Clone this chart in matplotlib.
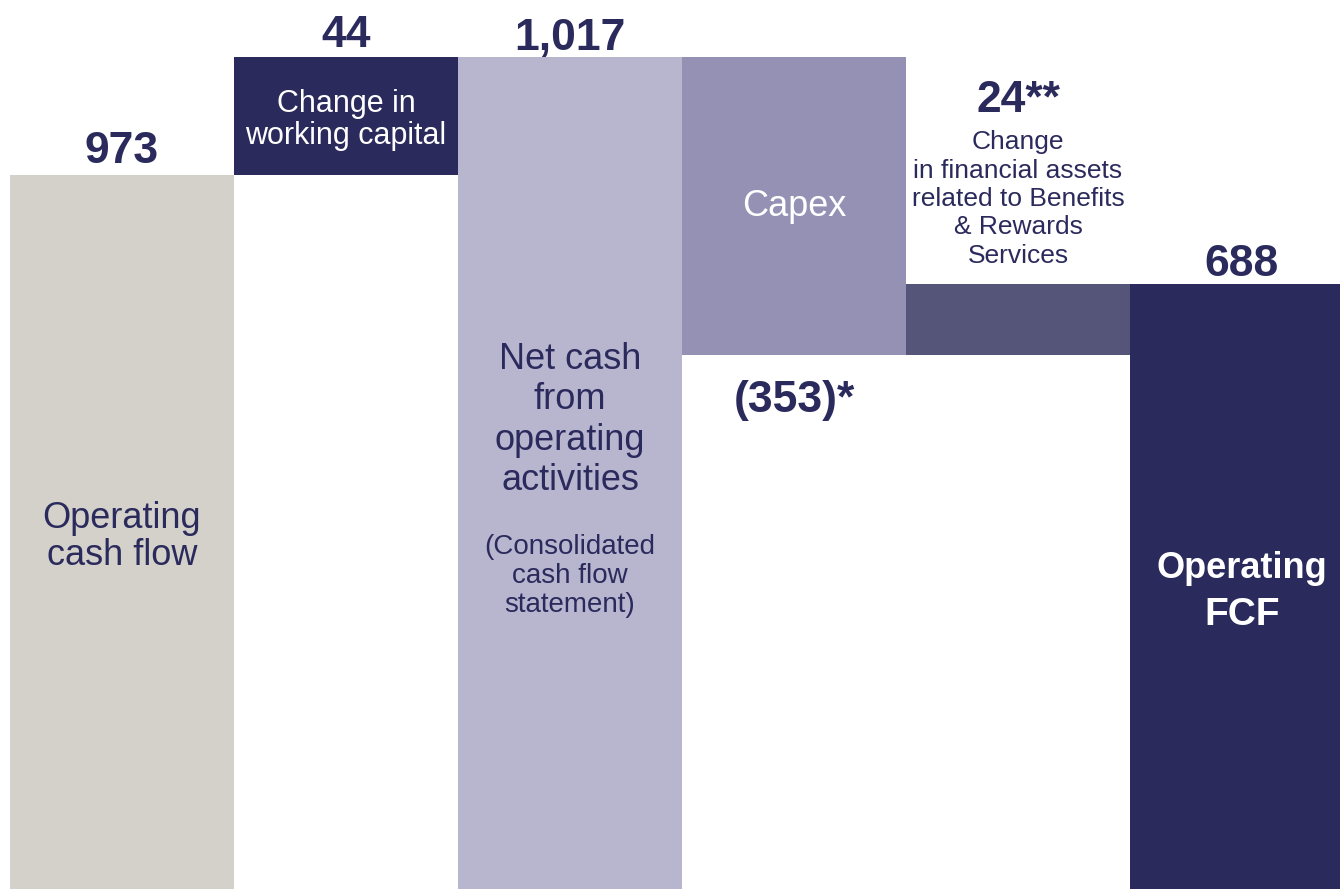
import numpy as np
import matplotlib
matplotlib.use('Agg')
import matplotlib.pyplot as plt
from matplotlib import transforms

# Datos del puente (millones)
steps = ['Operating cash flow', 'Change in working capital',
         'Net cash from operating activities', 'Capex',
         'Change in financial assets', 'Operating FCF']
values = [973, 44, 1017, -353, 24, 688]
kinds = ['total', 'delta', 'total', 'delta', 'delta', 'total']
value_labels = ['973', '44', '1,017', '(353)*', '24**', '688']
colors = ['#D3D1CA', '#2B2A5C', '#B8B6CF', '#9491B5', '#55557A', '#2B2A5C']

ink = '#2B2A5C'
fam = 'Liberation Sans'

# barras flotantes
bottoms, heights = [], []
running = 0
for v, k in zip(values, kinds):
    if k == 'total':
        bottoms.append(0)
        running = v
    else:
        bottoms.append(running)
        running += v
    heights.append(v)

# el grafico original no esta a escala: escala lineal por tramos
levels = sorted(set([0] + [b + h for b, h in zip(bottoms, heights)] + bottoms))
level_px = [0, 534, 605, 714, 832]          # altura en pantalla de cada nivel
H = 889
slope = (levels[-1] - levels[-2]) / (level_px[-1] - level_px[-2])
ytop = levels[-1] + (H - level_px[-1]) * slope
lv = np.array(levels + [ytop], dtype=float)
px = np.array(level_px + [H], dtype=float)

fig = plt.figure(figsize=(13.4, 8.89), dpi=100)
ax = fig.add_axes([0, 0, 1, 1])
ax.set_yscale('function', functions=(lambda v: np.interp(v, lv, px),
                                     lambda p: np.interp(p, px, lv)))
x = np.arange(len(values))
ax.bar(x, heights, bottom=bottoms, width=1.0, color=colors, linewidth=0)
ax.set_xlim(-0.5 - 10 / 224, -0.5 - 10 / 224 + 1340 / 224)
ax.set_ylim(0, ytop)
ax.axis('off')

# etiquetas de valor, desplazadas desde el extremo de cada barra (pixeles)
label_offsets = [12, 10, 7, -57, 172, 8]
for i, (lab, off) in enumerate(zip(value_labels, label_offsets)):
    anchor = bottoms[i] + heights[i]
    ax.annotate(lab, xy=(i, anchor), xytext=(0, off * 0.72),
                textcoords='offset points', ha='center', va='baseline',
                fontsize=32, fontweight='bold', color=ink, family=fam)

# textos dentro de las barras: (barra, y en pixeles desde arriba, texto, tam, color, peso, interlineado)
inner = [
    (0, 537, 'Operating\ncash flow', 26, ink, 'normal', 1.07),
    (1, 120, 'Change in\nworking capital', 22, 'white', 'normal', 1.06),
    (2, 420, 'Net cash\nfrom\noperating\nactivities', 26, ink, 'normal', 1.19),
    (2, 576, '(Consolidated\ncash flow\nstatement)', 20, ink, 'normal', 1.17),
    (3, 207, 'Capex', 26, 'white', 'normal', 1.0),
    (4, 199, 'Change\nin financial assets\nrelated to Benefits\n& Rewards\nServices',
     19, ink, 'normal', 1.23),
    (5, 569, 'Operating', 26, 'white', 'bold', 1.0),
    (5, 615, 'FCF', 28, 'white', 'bold', 1.0),
]
trans = transforms.blended_transform_factory(ax.transData, ax.transAxes)
for i, ytop_px, txt, size, col, weight, ls in inner:
    ax.text(i, 1 - ytop_px / H, txt, transform=trans, ha='center', va='center',
            multialignment='center', fontsize=size, color=col,
            fontweight=weight, family=fam, linespacing=ls)

fig.savefig('out.png', dpi=100, facecolor='white')
plt.close(fig)
